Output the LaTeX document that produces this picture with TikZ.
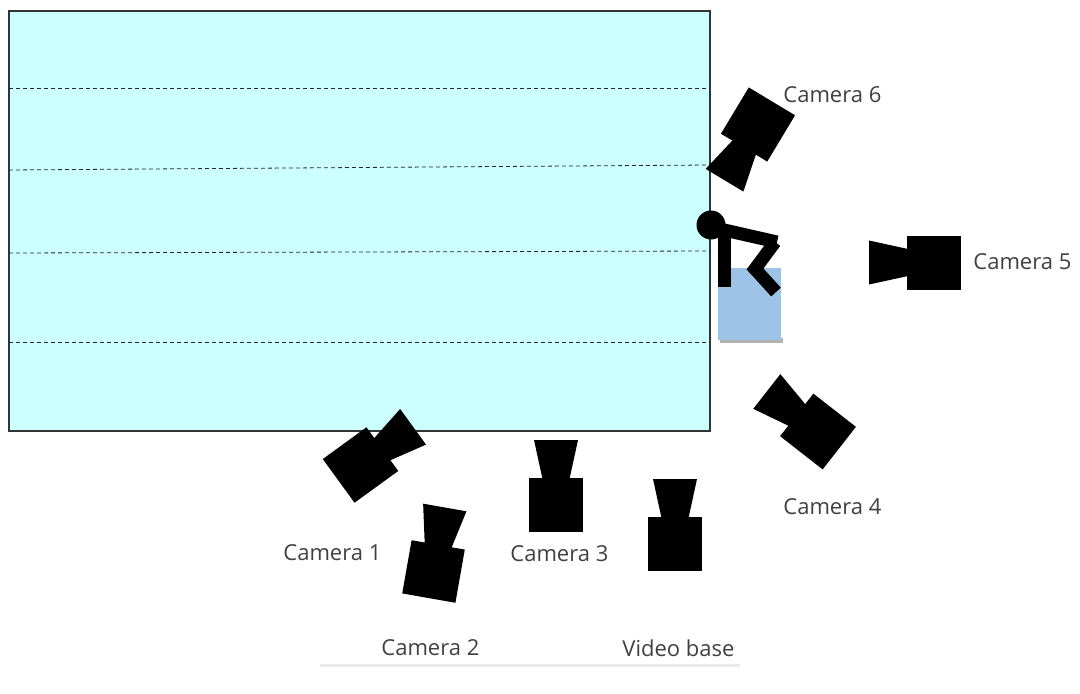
\documentclass[tikz,border=0pt]{standalone}
\usepackage{fontspec}
\setmainfont{Open Sans}
\definecolor{poolcyan}{HTML}{CCFFFF}
\definecolor{boxblue}{HTML}{9DC3E6}
\definecolor{labelgray}{HTML}{404040}

\begin{document}
\begin{tikzpicture}[x=0.5pt, y=0.5pt,
	pool/.style = {draw = black!80, line width = 0.6pt, fill = poolcyan},
	lane/.style = {draw = black!85, dashed, dash pattern = on 2pt off 1.5pt, line width = 0.4pt},
	label/.style = {anchor = west, inner sep = 0pt, text = labelgray, font = \fontsize{11}{13}\selectfont},
	limb/.style = {line width = 6.5pt},
	camera/.pic = {
		\fill (-27,-27) rectangle (27,27);
		\fill (26,-13.5) -- (65,-22) -- (65,22) -- (26,13.5) -- cycle;
	}]
	\useasboundingbox (0,0) rectangle (1080,693);

	% pool with lanes
	\draw[pool] (9,262) rectangle (710,682);
	\draw[lane] (9,605) -- (710,605);
	\draw[lane] (9,523) -- (710,528);
	\draw[lane] (9,440) -- (710,442);
	\draw[lane] (9,351) -- (710,351);

	% starting block and swimmer
	\fill[black!30] (720,350) rectangle (783,355);
	\fill[boxblue] (718,353) rectangle (781,425);
	\fill (711,468) circle (14.5);
	\draw[limb] (711,466) -- (777,451);
	\draw[limb] (724,462) -- (724,406);
	\draw[limb, line join = miter] (775,451) -- (755,424) -- (776,401);

	% cameras
	\pic[rotate=36]  at (360.5,228) {camera};
	\pic[rotate=80]  at (433.5,121.5) {camera};
	\pic[rotate=90]  at (556,188) {camera};
	\pic[rotate=142] at (818,261.5) {camera};
	\pic[rotate=180] at (934,430.5) {camera};
	\pic[rotate=239] at (758,568.5) {camera};
	\pic[rotate=90]  at (675,149) {camera};

	% labels
	\node[label] (cam1) at (283,140) {Camera 1};
	\node[label] (cam2) at (381,45) {Camera 2};
	\node[label] (cam3) at (510,139) {Camera 3};
	\node[label] (cam4) at (783,186) {Camera 4};
	\node[label] (cam5) at (973,431) {Camera 5};
	\node[label] (cam6) at (783,598) {Camera 6};
	\node[label] (base) at (622,45) {Video base};

	% faint base line
	\draw[black!8, line width = 1.5pt] (320,28) -- (740,28);
\end{tikzpicture}
\end{document}
